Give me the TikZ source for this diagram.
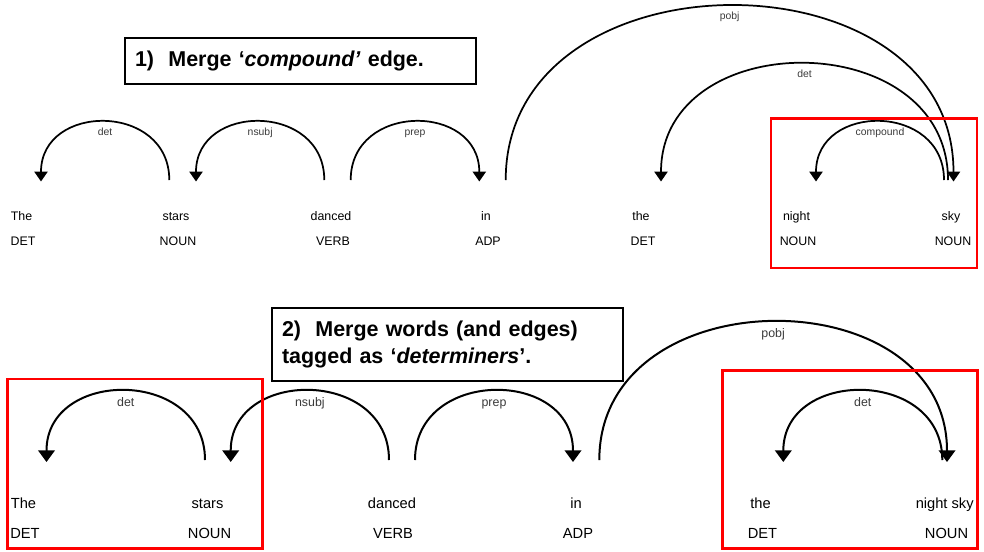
\documentclass[tikz,border=0pt]{standalone}
\usepackage{fontspec}
\setmainfont{Liberation Sans}
\usetikzlibrary{arrows.meta}
\definecolor{ink}{HTML}{000000}
\definecolor{lblink}{HTML}{3A3A3A}
\definecolor{hilite}{HTML}{FF0000}

\begin{document}
\begin{tikzpicture}[
  x=0.75pt, y=-0.75pt, color=ink,
  title/.style={draw=ink, line width=1.5pt, anchor=north west, align=left,
                inner xsep=7.5pt, font=\fontsize{16.1}{20.25}\selectfont\bfseries},
  tword/.style={anchor=base, inner sep=0pt, font=\fontsize{9.3}{11}\selectfont},
  bword/.style={anchor=base, inner sep=0pt, font=\fontsize{11}{13}\selectfont},
  tarc/.style={line width=1.3pt, -{Triangle[width=10pt, length=7.5pt]}},
  barc/.style={line width=1.5pt, -{Triangle[width=12.5pt, length=8.8pt]}},
  tlbl/.style={pos=0.5, anchor=base, yshift=-10pt, inner sep=0pt, text=lblink,
               font=\fontsize{7.8}{9}\selectfont},
  blbl/.style={pos=0.5, anchor=base, yshift=-11.5pt, inner sep=0pt, text=lblink,
               font=\fontsize{9.3}{11}\selectfont},
  hl/.style={draw=hilite, line width=2pt},
]
\useasboundingbox (0,0) rectangle (984,551);

% ---- step 1: merge compound edge ----
\node[title, text width=248pt, minimum height=35pt] (step1) at (124,36.5)
  {1)\ \ Merge ‘\textit{compound’} edge.};

% words and tags
\node[tword] (tw1) at (21.5,220.5) {The};
\node[tword] (tw2) at (176,220.5) {stars};
\node[tword] (tw3) at (331,220.5) {danced};
\node[tword] (tw4) at (486,220.5) {in};
\node[tword] (tw5) at (641,220.5) {the};
\node[tword] (tw6) at (796.5,220.5) {night};
\node[tword] (tw7) at (951,220.5) {sky};
\node[tword] (tp1) at (23,245.5) {DET};
\node[tword] (tp2) at (178,245.5) {NOUN};
\node[tword] (tp3) at (333,245.5) {VERB};
\node[tword] (tp4) at (488,245.5) {ADP};
\node[tword] (tp5) at (643,245.5) {DET};
\node[tword] (tp6) at (798,245.5) {NOUN};
\node[tword] (tp7) at (953,245.5) {NOUN};

% arc feet (head -> dependent)
\coordinate (tdetH) at (169.3,180);    \coordinate (tdetD) at (41,181.5);
\coordinate (tnsubjH) at (324.3,180);  \coordinate (tnsubjD) at (196,181.5);
\coordinate (tprepH) at (350.7,180);   \coordinate (tprepD) at (479.3,181.5);
\coordinate (tpobjH) at (505.7,180);   \coordinate (tpobjD) at (953.5,181.5);
\coordinate (tdetbH) at (948,180);     \coordinate (tdetbD) at (661,181.5);
\coordinate (tcompH) at (944,180);     \coordinate (tcompD) at (816,181.5);

% arcs
\draw[tarc] (tdetH) .. controls +(0,-77.5) and +(0,-79) .. (tdetD) node[tlbl] {det};
\draw[tarc] (tnsubjH) .. controls +(0,-77.5) and +(0,-79) .. (tnsubjD) node[tlbl] {nsubj};
\draw[tarc] (tprepH) .. controls +(0,-77.5) and +(0,-79) .. (tprepD) node[tlbl] {prep};
\draw[tarc] (tpobjH) .. controls +(0,-232) and +(0,-233.5) .. (tpobjD) node[tlbl] {pobj};
\draw[tarc] (tdetbH) .. controls +(0,-155) and +(0,-156.5) .. (tdetbD) node[tlbl] {det};
\draw[tarc] (tcompH) .. controls +(0,-77.5) and +(0,-79) .. (tcompD) node[tlbl] {compound};

\draw[hl] (771,118.5) rectangle (977,268);

% ---- step 2: merge determiners ----
\node[title, text width=248pt, minimum height=54.75pt] (step2) at (271,307.3)
  {2)\ \ Merge words (and edges)\\tagged as ‘\textit{determiners}’.};

% words and tags
\node[bword] (bw1) at (23.5,508.3) {The};
\node[bword] (bw2) at (207.5,508.3) {stars};
\node[bword] (bw3) at (392,508.3) {danced};
\node[bword] (bw4) at (576,508.3) {in};
\node[bword] (bw5) at (760.5,508.3) {the};
\node[bword] (bw6) at (944.7,508.3) {night sky};
\node[bword] (bp1) at (25,538.3) {DET};
\node[bword] (bp2) at (209.5,538.3) {NOUN};
\node[bword] (bp3) at (393,538.3) {VERB};
\node[bword] (bp4) at (578,538.3) {ADP};
\node[bword] (bp5) at (762.5,538.3) {DET};
\node[bword] (bp6) at (946.5,538.3) {NOUN};

% arc feet (head -> dependent)
\coordinate (bdetH) at (205,460);      \coordinate (bdetD) at (46.5,462);
\coordinate (bnsubjH) at (389,460);    \coordinate (bnsubjD) at (230.7,462);
\coordinate (bprepH) at (415,460);     \coordinate (bprepD) at (573,462);
\coordinate (bpobjH) at (599.3,460);   \coordinate (bpobjD) at (947,462);
\coordinate (bdetbH) at (942.3,460);   \coordinate (bdetbD) at (783.3,462);

% arcs
\draw[barc] (bdetH) .. controls +(0,-92) and +(0,-94) .. (bdetD) node[blbl] {det};
\draw[barc] (bnsubjH) .. controls +(0,-92) and +(0,-94) .. (bnsubjD) node[blbl] {nsubj};
\draw[barc] (bprepH) .. controls +(0,-92) and +(0,-94) .. (bprepD) node[blbl] {prep};
\draw[barc] (bpobjH) .. controls +(0,-184) and +(0,-186) .. (bpobjD) node[blbl] {pobj};
\draw[barc] (bdetbH) .. controls +(0,-92) and +(0,-94) .. (bdetbD) node[blbl] {det};

\draw[hl] (7.7,379) rectangle (262.7,548.3);
\draw[hl] (722.3,370.7) rectangle (977.3,548.3);
\end{tikzpicture}
\end{document}
